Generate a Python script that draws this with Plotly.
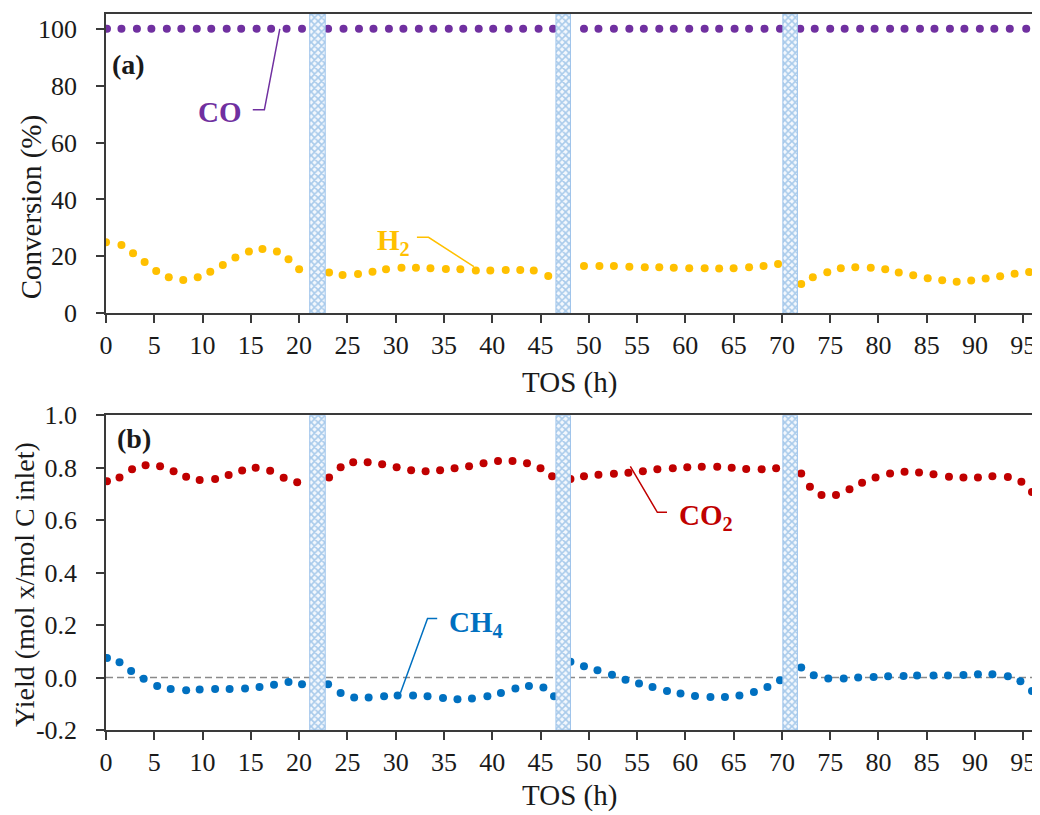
import plotly.graph_objects as go
from plotly.subplots import make_subplots

# ---------------- data ----------------
co_x = [0.1, 1.6, 3.2, 4.7, 6.3, 7.8, 9.4, 10.9, 12.5, 14.0, 15.6, 17.1, 18.7, 20.3,
        23.0, 24.6, 26.2, 27.7, 29.3, 30.8, 32.4, 33.9, 35.5, 37.0, 38.6, 40.1, 41.7, 43.2, 44.8, 46.3,
        49.5, 51.0, 52.6, 54.2, 55.7, 57.3, 58.8, 60.4, 62.0, 63.5, 65.1, 66.6, 68.2, 69.8,
        71.9, 73.4, 75.0, 76.5, 78.1, 79.6, 81.2, 82.7, 84.3, 85.8, 87.4, 88.9, 90.5, 92.0, 93.6, 95.3]
co_conv = [100.0, 100.0, 100.0, 100.0, 100.0, 100.0, 100.0, 100.0, 100.0, 100.0, 100.0, 100.0, 100.0, 100.0,
           100.0, 100.0, 100.0, 100.0, 100.0, 100.0, 100.0, 100.0, 100.0, 100.0, 100.0, 100.0, 100.0, 100.0, 100.0, 100.0,
           100.0, 100.0, 100.0, 100.0, 100.0, 100.0, 100.0, 100.0, 100.0, 100.0, 100.0, 100.0, 100.0, 100.0,
           100.0, 100.0, 100.0, 100.0, 100.0, 100.0, 100.0, 100.0, 100.0, 100.0, 100.0, 100.0, 100.0, 100.0, 100.0, 100.0]

h2_x = [0.0, 1.6, 2.8, 4.0, 5.2, 6.5, 8.0, 9.5, 10.8, 12.1, 13.4, 14.8, 16.2, 17.7, 18.9, 20.0,
        23.1, 24.5, 26.1, 27.6, 29.0, 30.6, 32.1, 33.6, 35.2, 36.7, 38.3, 39.8, 41.4, 42.9, 44.3, 45.8,
        49.5, 51.1, 52.6, 54.2, 55.8, 57.3, 58.8, 60.4, 62.0, 63.5, 65.0, 66.6, 68.1, 69.6,
        72.0, 73.2, 74.7, 76.1, 77.6, 79.2, 80.7, 82.1, 83.6, 85.1, 86.6, 88.1, 89.6, 91.1, 92.6, 94.1, 95.6]
h2_conv = [25.0, 24.0, 21.1, 18.0, 14.9, 12.7, 11.7, 12.7, 14.6, 17.0, 19.6, 21.7, 22.6, 21.7, 19.0, 15.5,
           14.3, 13.5, 13.8, 14.6, 15.5, 16.0, 16.0, 15.8, 15.6, 15.5, 15.0, 15.0, 15.2, 15.2, 15.0, 13.1,
           16.6, 16.6, 16.6, 16.4, 16.2, 16.2, 16.0, 15.8, 15.8, 15.7, 15.8, 16.2, 16.6, 17.3,
           10.3, 12.7, 14.4, 15.8, 16.2, 16.0, 15.5, 14.3, 13.4, 12.3, 11.6, 11.1, 11.5, 12.2, 13.0, 13.9, 14.5]

co2_x = [0.1, 1.4, 2.7, 4.1, 5.6, 7.0, 8.3, 9.7, 11.3, 12.7, 14.1, 15.5, 17.0, 18.4, 19.8,
         23.1, 24.3, 25.6, 27.1, 28.6, 30.1, 31.6, 33.1, 34.6, 36.1, 37.6, 39.1, 40.6, 42.1, 43.6, 45.0, 46.2,
         48.1, 49.5, 51.0, 52.6, 54.1, 55.6, 57.1, 58.7, 60.2, 61.7, 63.3, 64.8, 66.3, 67.9, 69.4,
         72.0, 72.9, 74.1, 75.6, 77.0, 78.3, 79.7, 81.2, 82.7, 84.2, 85.7, 87.3, 88.8, 90.3, 91.8, 93.4, 94.8, 95.9]
co2_yield = [0.749, 0.763, 0.794, 0.810, 0.806, 0.787, 0.766, 0.753, 0.757, 0.772, 0.790, 0.800, 0.789, 0.762, 0.745,
             0.763, 0.802, 0.821, 0.821, 0.813, 0.802, 0.791, 0.787, 0.791, 0.798, 0.806, 0.817, 0.826, 0.826, 0.817, 0.798, 0.768,
             0.757, 0.768, 0.773, 0.777, 0.781, 0.787, 0.794, 0.798, 0.802, 0.804, 0.804, 0.800, 0.795, 0.794, 0.798,
             0.778, 0.728, 0.696, 0.696, 0.718, 0.743, 0.763, 0.778, 0.785, 0.782, 0.775, 0.766, 0.763, 0.763, 0.768, 0.765, 0.747, 0.708]

ch4_x = [0.1, 1.4, 2.6, 3.9, 5.3, 6.7, 8.3, 9.7, 11.3, 12.8, 14.4, 15.9, 17.4, 18.9, 20.3,
         23.0, 24.3, 25.7, 27.2, 28.8, 30.2, 31.8, 33.3, 34.9, 36.4, 37.9, 39.5, 40.9, 42.4, 43.8, 45.3, 46.4,
         48.1, 49.5, 50.9, 52.4, 53.8, 55.2, 56.6, 58.1, 59.5, 61.0, 62.6, 64.1, 65.6, 67.1, 68.5, 69.8,
         72.0, 73.3, 74.8, 76.4, 77.9, 79.5, 81.0, 82.6, 84.0, 85.7, 87.2, 88.8, 90.3, 91.8, 93.4, 94.7, 95.9]
ch4_yield = [0.075, 0.058, 0.025, -0.005, -0.032, -0.044, -0.048, -0.046, -0.044, -0.044, -0.042, -0.036, -0.027, -0.017, -0.026,
             -0.026, -0.059, -0.076, -0.076, -0.071, -0.068, -0.068, -0.071, -0.078, -0.083, -0.080, -0.071, -0.059, -0.042, -0.032, -0.038, -0.071,
             0.060, 0.043, 0.028, 0.011, -0.008, -0.023, -0.036, -0.051, -0.061, -0.070, -0.074, -0.074, -0.068, -0.055, -0.036, -0.010,
             0.038, 0.009, -0.004, -0.004, 0.000, 0.002, 0.005, 0.006, 0.008, 0.008, 0.008, 0.010, 0.013, 0.013, 0.005, -0.014, -0.051]

# regeneration periods (hatched bands)
band_start = [21.1, 46.6, 70.1]
band_end = [22.7, 48.1, 71.6]

x_ticks = [0, 5, 10, 15, 20, 25, 30, 35, 40, 45, 50, 55, 60, 65, 70, 75, 80, 85, 90, 95]
conv_ticks = [0, 20, 40, 60, 80, 100]
yield_ticks = [-0.2, 0.0, 0.2, 0.4, 0.6, 0.8, 1.0]
yield_ticktext = ["-0.2", "0.0", "0.2", "0.4", "0.6", "0.8", "1.0"]

# ---------------- style ----------------
FONT = "Liberation Serif"
C_CO = "#7030a0"
C_H2 = "#ffc000"
C_CO2 = "#c00000"
C_CH4 = "#0070c0"
AX = "#3a3a3a"
TXT = "#1a1a1a"

fig = make_subplots(rows=2, cols=1)

mk = dict(size=8)
fig.add_trace(go.Scatter(x=co_x, y=co_conv, mode="markers", marker=dict(color=C_CO, **mk), name="CO"), row=1, col=1)
fig.add_trace(go.Scatter(x=h2_x, y=h2_conv, mode="markers", marker=dict(color=C_H2, **mk), name="H2"), row=1, col=1)
fig.add_trace(go.Scatter(x=co2_x, y=co2_yield, mode="markers", marker=dict(color=C_CO2, **mk), name="CO2"), row=2, col=1)
fig.add_trace(go.Scatter(x=ch4_x, y=ch4_yield, mode="markers", marker=dict(color=C_CH4, **mk), name="CH4"), row=2, col=1)

# hatched bands, drawn above the markers
pattern = dict(shape="x", fgcolor="#5b9bd8", bgcolor="#f4f8fd", size=5, solidity=0.55)
for row, (lo, hi) in ((1, (0, 105.2)), (2, (-0.2, 1.0))):
    for s, e in zip(band_start, band_end):
        fig.add_trace(go.Scatter(x=[s, e, e, s, s], y=[lo, lo, hi, hi, lo], mode="lines",
                                 fill="toself", fillcolor="rgba(0,0,0,0)", fillpattern=pattern,
                                 line=dict(color="#9cc2ea", width=1), hoverinfo="skip"),
                      row=row, col=1)

axis_common = dict(showgrid=False, zeroline=False, showline=True, linecolor=AX, linewidth=1.5,
                   mirror=True, ticks="outside", ticklen=8, tickwidth=1.5, tickcolor=AX, automargin=False,
                   tickfont=dict(family=FONT, size=26, color=TXT))

fig.update_xaxes(range=[0, 95.9], tickmode="array", tickvals=x_ticks, ticklabelstandoff=0, **axis_common)
fig.update_yaxes(range=[0, 105.2], tickmode="array", tickvals=conv_ticks, ticklabelstandoff=14,
                 row=1, col=1, **axis_common)
fig.update_yaxes(range=[-0.2, 1.0], tickmode="array", tickvals=yield_ticks, ticktext=yield_ticktext,
                 ticklabelstandoff=14, row=2, col=1, **axis_common)

# the page body adds an 8 px offset, so the figure is 8 px smaller than the window
fig.update_layout(
    width=1032, height=807,
    margin=dict(l=98, r=8, t=6, b=85, autoexpand=False),
    paper_bgcolor="white", plot_bgcolor="white",
    showlegend=False,
    font=dict(family=FONT, color=TXT),
    xaxis=dict(domain=[0, 1], anchor="y"),
    yaxis=dict(domain=[0.582, 1.0], anchor="x"),
    xaxis2=dict(domain=[0, 1], anchor="y2"),
    yaxis2=dict(domain=[0.0, 0.4395], anchor="x2"),
)

# zero reference line in (b)
fig.add_shape(type="line", xref="x2 domain", yref="y2", x0=0, x1=1, y0=0, y1=0,
              line=dict(color="#8a8a8a", width=1.5, dash="7px,4px"), layer="below")

# leader lines for labels
def leader(xs, ys, color, xref, yref):
    path = "M {} {}".format(xs[0], ys[0]) + "".join(" L {} {}".format(a, b) for a, b in zip(xs[1:], ys[1:]))
    fig.add_shape(type="path", path=path, xref=xref, yref=yref, line=dict(color=color, width=1.5))

leader([15.2, 16.4, 18.0], [71.5, 71.5, 100.0], C_CO, "x", "y")
leader([32.2, 33.4, 38.1], [26.7, 26.7, 16.4], C_H2, "x", "y")
leader([34.3, 33.3, 30.5], [0.225, 0.225, -0.058], C_CH4, "x2", "y2")
leader([54.3, 57.1, 58.1], [0.805, 0.630, 0.630], C_CO2, "x2", "y2")

ann = []
def label(text, x, y, color, xref, yref, xanchor="left", size=29):
    ann.append(dict(text=text, x=x, y=y, xref=xref, yref=yref, xanchor=xanchor, yanchor="middle",
                    showarrow=False, font=dict(family=FONT, size=size, color=color)))

label("<b>CO</b>", 14.3, 70.8, C_CO, "x", "y", xanchor="right")
label("<b>H<sub>2</sub></b>", 27.9, 25.0, C_H2, "x", "y")
label("<b>CH<sub>4</sub></b>", 35.3, 0.205, C_CH4, "x2", "y2")
label("<b>CO<sub>2</sub></b>", 59.1, 0.612, C_CO2, "x2", "y2")
label("<b>(a)</b>", 0.4, 87.3, TXT, "x", "y", size=28)
label("<b>(b)</b>", 0.9, 0.91, TXT, "x2", "y2", size=28)

# axis titles
title_font = dict(family=FONT, size=29, color=TXT)
ann.append(dict(text="TOS (h)", x=0.5, y=0.4853, xref="paper", yref="paper", xanchor="center", yanchor="middle",
                showarrow=False, font=title_font))
ann.append(dict(text="TOS (h)", x=0.5, y=-0.091, xref="paper", yref="paper", xanchor="center", yanchor="middle",
                showarrow=False, font=title_font))
ann.append(dict(text="Conversion (%)", x=-0.081, y=0.730, xref="paper", yref="paper", xanchor="center",
                yanchor="middle", textangle=-90, showarrow=False, font=title_font))
ann.append(dict(text="Yield (mol x/mol C inlet)", x=-0.0875, y=0.204, xref="paper", yref="paper", xanchor="center",
                yanchor="middle", textangle=-90, showarrow=False, font=dict(family=FONT, size=28, color=TXT)))
fig.update_layout(annotations=ann)

fig.write_html("out.html")
